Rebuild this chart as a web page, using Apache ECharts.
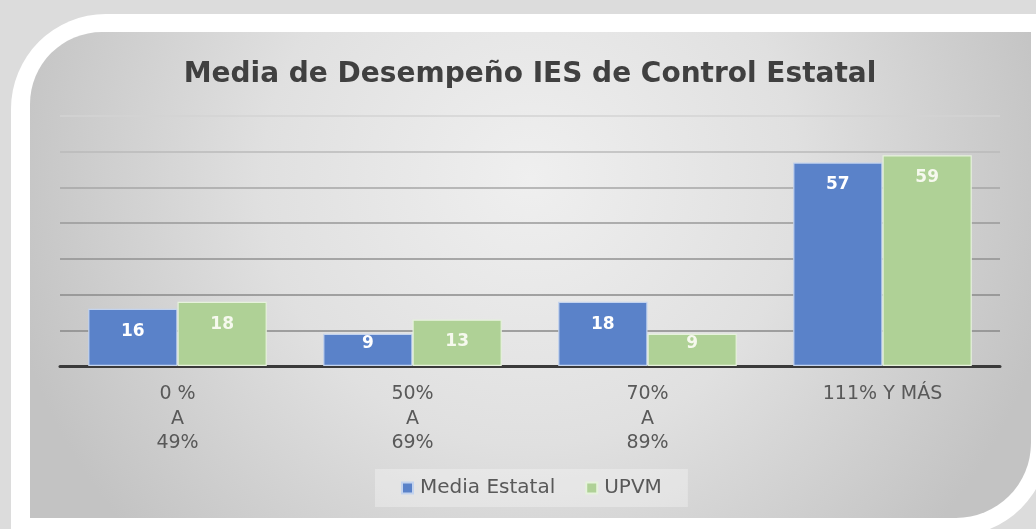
<!DOCTYPE html>
<html>
<head>
<meta charset="utf-8">
<script src="https://cdn.jsdelivr.net/npm/echarts@6/dist/echarts.min.js"></script>
<style>
  html, body { margin: 0; padding: 0; background: #dcdcdc; }
  #chart { width: 1036px; height: 529px; }
</style>
</head>
<body>
<div id="chart"></div>
<script>
const categories = ['0 %\nA\n49%', '50%\nA\n69%', '70%\nA\n89%', '111% Y MÁS'];
const mediaEstatal = [16, 9, 18, 57];
const upvm = [18, 13, 9, 59];
const seriesNames = ['Media Estatal', 'UPVM'];
const titleText = 'Media de Desempeño IES de Control Estatal';

const chart = echarts.init(document.getElementById('chart'), null, { renderer: 'canvas' });

function labelFor(v, color) {
  return {
    show: true,
    position: 'insideTop',
    distance: v < 10 ? 1 : 14,
    color: color,
    fontFamily: 'DejaVu Sans',
    fontWeight: 'bold',
    fontSize: 17
  };
}
function toData(arr, color) {
  return arr.map(v => ({ value: v, label: labelFor(v, color) }));
}

chart.setOption({
  backgroundColor: '#dcdcdc',
  animation: false,
  graphic: [
    {
      type: 'rect', z: -20, silent: true,
      shape: { x: 11, y: 14, width: 1038, height: 522, r: [95, 0, 95, 0] },
      style: { fill: '#ffffff' }
    },
    {
      type: 'rect', z: -10, silent: true,
      shape: { x: 30, y: 32, width: 1001, height: 486, r: [72, 0, 75, 0] },
      style: {
        fill: {
          type: 'radial', x: 0.5, y: 0.3, r: 1.1,
          colorStops: [
            { offset: 0, color: '#efefef' },
            { offset: 0.5, color: '#e0e0e0' },
            { offset: 1, color: '#c3c3c3' }
          ]
        }
      }
    }
  ],
  title: {
    text: titleText,
    left: 530,
    top: 61,
    padding: 0,
    textAlign: 'center',
    textStyle: {
      fontFamily: 'DejaVu Sans',
      fontWeight: 'bold',
      fontSize: 28,
      color: '#404040'
    }
  },
  legend: {
    data: seriesNames,
    left: 375,
    top: 469,
    padding: [9, 26],
    itemWidth: 11,
    itemHeight: 11,
    itemGap: 30,
    icon: 'rect',
    backgroundColor: 'rgba(255,255,255,0.3)',
    textStyle: { fontFamily: 'DejaVu Sans', fontSize: 20, color: '#595959', padding: [0, 0, 0, 2] }
  },
  grid: { left: 60, right: 36, top: 116, bottom: 163 },
  xAxis: {
    type: 'category',
    data: categories,
    axisTick: { show: false },
    axisLine: { lineStyle: { color: '#3a3a3a', width: 3 } },
    axisLabel: {
      fontFamily: 'DejaVu Sans',
      fontSize: 19,
      lineHeight: 24.5,
      color: '#595959',
      margin: 16
    }
  },
  yAxis: {
    type: 'value',
    min: 0,
    max: 70,
    interval: 10,
    axisLabel: { show: false },
    axisLine: { show: false },
    axisTick: { show: false },
    splitLine: {
      lineStyle: {
        width: 1.5,
        color: ['#8a8a8a', '#888888', '#8a8a8a', '#909090', '#999999', '#a6a6a6', '#bababa', '#d3d3d3']
      }
    }
  },
  series: [
    {
      name: seriesNames[0],
      type: 'bar',
      data: toData(mediaEstatal, '#ffffff'),
      barGap: '0%',
      barCategoryGap: '24%',
      itemStyle: { color: '#5a82c9', borderColor: '#c3d3ee', borderWidth: 1.2 }
    },
    {
      name: seriesNames[1],
      type: 'bar',
      data: toData(upvm, '#f6f9ee'),
      itemStyle: { color: '#afd196', borderColor: '#e6f2dc', borderWidth: 1.2 }
    }
  ]
});
</script>
</body>
</html>
